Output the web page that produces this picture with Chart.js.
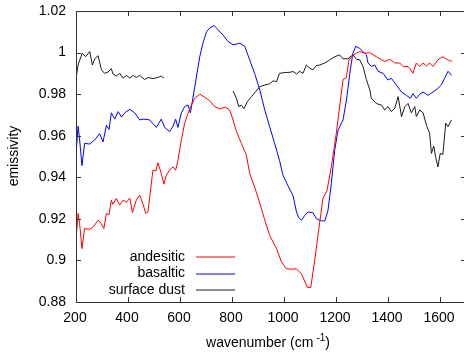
<!DOCTYPE html>
<html>
<head>
<meta charset="utf-8">
<script src="https://cdn.jsdelivr.net/npm/chart.js@4.4.1/dist/chart.umd.min.js"></script>
<style>
  html, body { margin: 0; padding: 0; background: #fff; overflow: hidden; }
  #wrap { width: 468px; height: 353px; }
</style>
</head>
<body>
<div id="wrap"><canvas id="emisChart" width="468" height="353"></canvas></div>
<script>
// spectra
const andesiticWn = [200,208,214,223,233,253,266,285,297,307,317,327,336,342,355,368,381,394,407,417,
  432,445,458,468,477,483,496,507,515,528,538,547,560,573,583,592,605,618,631,644,
  657,676,695,714,733,753,775,791,804,817,836,855,868,887,907,926,945,971,990,1009,
  1028,1048,1067,1090,1103,1118,1137,1150,1165,1182,1201,1214,1227,1240,1250,1263,1278,1291,1310,1329,
  1355,1375,1388,1407,1426,1445,1458,1477,1486,1496,1509,1522,1535,1548,1560,1573,1592,1609,1624,1637,
  1646];
const andesiticEm = [0.910,0.9226,0.9178,0.9057,0.9153,0.915,0.916,0.9194,0.9177,0.9153,0.9226,0.922,0.929,0.927,0.9298,0.9266,0.929,0.928,0.930,0.923,
  0.929,0.9314,0.927,0.9226,0.9234,0.930,0.9435,0.943,0.947,0.9419,0.9367,0.941,0.9435,0.945,0.9434,0.948,0.958,0.966,0.9708,0.9748,
  0.978,0.980,0.9785,0.9769,0.974,0.9729,0.9737,0.9724,0.9676,0.962,0.9563,0.9507,0.9418,0.9354,0.9274,0.9194,0.912,0.9057,0.8993,0.896,
  0.8958,0.896,0.8935,0.887,0.887,0.900,0.918,0.930,0.9334,0.945,0.961,0.974,0.987,0.988,0.9965,0.9984,0.9997,1.0005,0.9997,1.000,
  0.998,0.9965,0.9957,0.9968,0.995,0.995,0.9933,0.9933,0.992,0.990,0.995,0.9933,0.995,0.9935,0.995,0.9933,0.9965,0.998,0.997,0.996,
  0.996];

const basalticWn = [200,208,214,223,233,253,272,291,304,317,327,336,349,362,375,387,407,426,445,461,
  483,509,528,541,560,573,583,592,605,618,631,640,657,676,688,702,714,731,746,765,
  785,804,830,849,868,887,907,926,945,964,983,996,1015,1035,1048,1057,1067,1080,1092,1111,
  1125,1144,1157,1169,1182,1195,1208,1227,1240,1255,1265,1276,1291,1304,1317,1323,1336,1349,1362,1381,
  1400,1413,1432,1452,1471,1486,1496,1509,1522,1535,1554,1573,1592,1605,1618,1631,1644];
const basalticEm = [0.951,0.9646,0.958,0.9456,0.9563,0.956,0.958,0.961,0.957,0.965,0.963,0.971,0.968,0.9716,0.969,0.971,0.9727,0.971,0.9676,0.968,
  0.9676,0.964,0.968,0.964,0.962,0.9645,0.968,0.964,0.971,0.974,0.9748,0.971,0.9836,0.998,1.0045,1.010,1.0118,1.013,1.011,1.0085,
  1.0053,1.0037,1.0045,1.003,0.9965,0.990,0.982,0.9724,0.9643,0.9563,0.948,0.941,0.936,0.931,0.9233,0.9206,0.9193,0.9217,0.9233,0.923,
  0.920,0.919,0.919,0.924,0.937,0.953,0.9627,0.9676,0.977,0.9917,0.9997,1.003,1.002,1.0005,0.9989,0.995,0.9933,0.994,0.991,0.990,
  0.9868,0.9876,0.9844,0.981,0.9794,0.978,0.9802,0.978,0.980,0.981,0.9794,0.981,0.9828,0.9844,0.9877,0.991,0.989];

// surface dust has a gap between ~540 and ~800 (null breaks the line)
const dustWn = [200,209,224,237,253,263,272,285,298,310,323,336,342,355,368,381,394,407,420,432,
  445,464,477,496,515,528,538,670,804,817,826,836,846,859,875,891,907,926,945,958,
  971,983,1003,1022,1035,1048,1060,1073,1086,1099,1111,1124,1137,1157,1176,1195,1214,1227,1246,1259,
  1265,1278,1291,1304,1317,1330,1336,1355,1375,1387,1400,1413,1426,1439,1452,1465,1477,1490,1503,1509,
  1522,1535,1548,1560,1567,1576,1583,1592,1601,1611,1622,1631,1644];
const dustEm = [0.9877,0.9945,0.9997,0.998,1.0005,0.994,0.997,0.9985,0.9917,0.990,0.9906,0.9923,0.9897,0.9887,0.990,0.9877,0.989,0.9877,0.989,0.988,
  0.989,0.987,0.988,0.9875,0.988,0.9887,0.9877,null,0.9815,0.978,0.974,0.9747,0.973,0.9764,0.9788,0.9812,0.9836,0.9844,0.985,0.9864,
  0.986,0.990,0.9904,0.9905,0.9909,0.9897,0.991,0.990,0.994,0.9925,0.9917,0.9937,0.994,0.995,0.9965,0.998,0.9989,0.997,0.997,0.9984,
  0.999,0.9968,0.9965,0.9933,0.987,0.982,0.978,0.9755,0.9747,0.9724,0.974,0.9716,0.9732,0.9788,0.9692,0.974,0.9755,0.971,0.974,0.9692,
  0.9724,0.971,0.965,0.9612,0.9515,0.955,0.9499,0.945,0.9515,0.951,0.966,0.9643,0.9676];

const seriesNames = ['andesitic', 'basaltic', 'surface dust'];
const seriesColors = ['#ff0000', '#0000ff', '#1a1a1a'];
const xTicks = [200, 400, 600, 800, 1000, 1200, 1400, 1600];
const yTicks = [0.88, 0.9, 0.92, 0.94, 0.96, 0.98, 1.0, 1.02];

const FONT = '"Liberation Sans", Arial, sans-serif';

function toPoints(xs, ys) {
    return xs.map((v, i) => ({ x: v, y: ys[i] }));
}

// gnuplot-like box with inward ticks on all four sides, tick labels, legend, titles
const framePlugin = {
    id: 'frame',
    afterDraw(chart) {
        const { ctx, chartArea: a, scales: { x, y } } = chart;
        ctx.save();
        ctx.strokeStyle = '#333';
        ctx.lineWidth = 1;
        ctx.beginPath();
        ctx.rect(a.left + 0.5, a.top + 0.5, a.right - a.left, a.bottom - a.top);
        xTicks.forEach(v => {
            const px = Math.round(x.getPixelForValue(v)) + 0.5;
            ctx.moveTo(px, a.bottom); ctx.lineTo(px, a.bottom - 5);
            ctx.moveTo(px, a.top); ctx.lineTo(px, a.top + 5);
        });
        yTicks.forEach(v => {
            const py = Math.round(y.getPixelForValue(v)) + 0.5;
            ctx.moveTo(a.left, py); ctx.lineTo(a.left + 5, py);
            ctx.moveTo(a.right, py); ctx.lineTo(a.right - 5, py);
        });
        ctx.stroke();

        ctx.fillStyle = '#000';
        ctx.font = '14px ' + FONT;
        ctx.textBaseline = 'middle';
        ctx.textAlign = 'right';
        yTicks.forEach(v => {
            ctx.fillText(String(Number(v.toFixed(2))), a.left - 10, y.getPixelForValue(v));
        });
        ctx.textAlign = 'center';
        xTicks.forEach(v => {
            ctx.fillText(String(v), x.getPixelForValue(v) - 1, 318);
        });

        // legend, bottom left inside the plot: sample lines first, then labels
        seriesNames.forEach((name, i) => {
            const ly = 257 + Math.round(i * 16.5);
            ctx.beginPath();
            ctx.strokeStyle = seriesColors[i];
            ctx.moveTo(196, ly);
            ctx.lineTo(235, ly);
            ctx.stroke();
        });
        ctx.textAlign = 'right';
        ctx.fillStyle = '#000';
        seriesNames.forEach((name, i) => {
            ctx.fillText(name, 185, 257 + i * 16.5);
        });

        // axis titles
        ctx.textAlign = 'left';
        ctx.textBaseline = 'alphabetic';
        const main = 'wavenumber (cm', sup = '-1', tail = ')';
        ctx.font = '14px ' + FONT;
        const w1 = ctx.measureText(main).width, w3 = ctx.measureText(tail).width;
        ctx.font = '10px ' + FONT;
        const w2 = ctx.measureText(sup).width;
        const sx = 268 - (w1 + 3 + w2 + w3) / 2;
        ctx.font = '14px ' + FONT;
        ctx.fillText(main, sx, 347);
        ctx.font = '10px ' + FONT;
        ctx.fillText(sup, sx + w1 + 3, 341);
        ctx.font = '14px ' + FONT;
        ctx.fillText(tail, sx + w1 + 3 + w2, 347);

        ctx.save();
        ctx.translate(14, 156);
        ctx.rotate(-Math.PI / 2);
        ctx.textAlign = 'center';
        ctx.textBaseline = 'middle';
        ctx.fillText('emissivity', 0, 0);
        ctx.restore();
        ctx.restore();
    }
};

document.addEventListener('DOMContentLoaded', () => {
    Chart.defaults.font.family = FONT;
    Chart.defaults.font.size = 14;
    Chart.defaults.color = '#000';

    const ctx = document.getElementById('emisChart').getContext('2d');
    new Chart(ctx, {
        type: 'line',
        data: {
            datasets: [
                { label: seriesNames[0], data: toPoints(andesiticWn, andesiticEm), borderColor: seriesColors[0] },
                { label: seriesNames[1], data: toPoints(basalticWn, basalticEm), borderColor: seriesColors[1] },
                { label: seriesNames[2], data: toPoints(dustWn, dustEm), borderColor: seriesColors[2], spanGaps: false }
            ].map(d => Object.assign(d, { borderWidth: 1, pointRadius: 0, tension: 0, fill: false }))
        },
        options: {
            responsive: false,
            animation: false,
            layout: { padding: { top: 11, right: 2, left: 0, bottom: 0 } },
            plugins: { legend: { display: false }, tooltip: { enabled: false } },
            scales: {
                x: {
                    type: 'linear',
                    min: 200,
                    max: 1700,
                    grid: { display: false },
                    border: { display: false },
                    ticks: { display: false },
                    afterFit: s => { s.height = 51; }
                },
                y: {
                    min: 0.88,
                    max: 1.02,
                    grid: { display: false },
                    border: { display: false },
                    ticks: { display: false },
                    afterFit: s => { s.width = 76; }
                }
            }
        },
        plugins: [framePlugin]
    });
});
</script>
</body>
</html>
